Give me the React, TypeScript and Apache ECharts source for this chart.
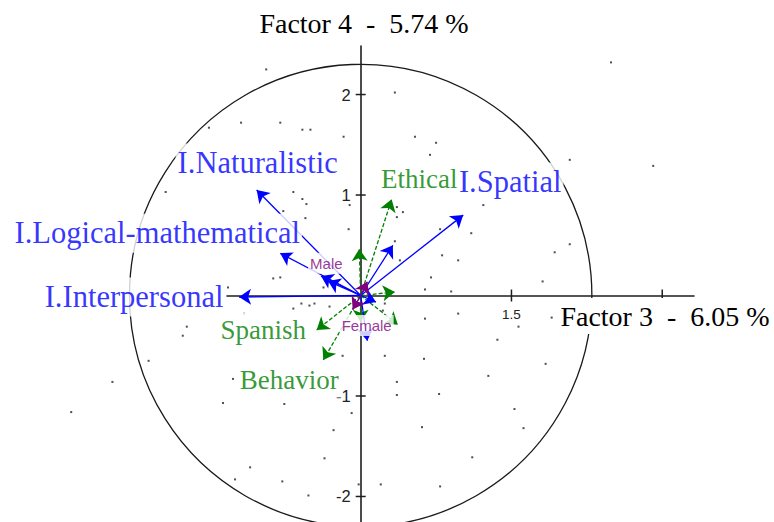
import React, { useEffect, useRef } from "react";
import * as echarts from "echarts";

// ---------- texts ----------
const xAxisTitle = "Factor 3  -  6.05 %";
const yAxisTitle = "Factor 4  -  5.74 %";

// ---------- axes ----------
const xMin = -1.33;
const xMax = 3.316;
const yMin = -2.254;
const yMax = 2.483;
const xTickValues = [1.5, 3];
const xTickLabels = [1.5];
const yTickValues = [-2, -1, 1, 2];
const circleRadius = 2.3;

// ---------- blue variables (intelligences) ----------
const blueNames = ["I.Naturalistic", "I.Logical-mathematical", "I.Interpersonal", "I.Spatial", "", "", "", "", ""];
const blueX = [-1.035, -0.8, -1.21, 1.02, 0.32, -0.395, -0.325, 0.152, 0.066];
const blueY = [1.05, 0.42, -0.015, 0.8, 0.5, 0.194, 0.144, -0.065, -0.45];

// ---------- green variables ----------
const greenNames = ["Ethical", "", "", "Spanish", "Behavior", "", ""];
const greenX = [0.308, -0.014, 0.34, -0.438, -0.372, 0.37, 0.0];
const greenY = [0.957, 0.463, 0.035, -0.343, -0.642, -0.29, -0.26];

// ---------- purple (gender) ----------
const purpleNames = ["Male", "Female"];
const purpleX = [0.066, -0.08];
const purpleY = [0.137, -0.14];

// ---------- individuals ----------
const dotX = [
  -1.51, -1.19, -1.94, -0.94, 0.34, -0.8, -0.58, -0.5, -0.17, 0.54, 0.75, 0.69, -0.67, -0.58, -0.54, -0.77,
  -0.11, 0.36, 0.42, 0.36, 1.22, -0.55, -0.12, 0.79, 1.1, 0.34, 0.81, 0.97, 0.39, -0.87, -0.8, 0.7, 0.64,
  0.9, -0.37, -1.32, -0.67, -0.59, -0.51, -0.46, -0.31, 0.24, 0.22, 0.64, 0.97, 1.57, 1.36, -0.18, 0.24,
  0.63, 1.27, 0.36, 0.36, 0.78, -0.76, -0.09, 1.53, -0.27, 0.61, -0.36, 1.11, -0.78, -0.02, 0.2, 0.79,
  -0.52, -1.16, -1.73, -1.77, -2.11, -2.47, -2.88, -1.27, -1.37, -1.1, -1.25, 2.49, 2.08, 2.91, 2.08, 1.93,
  1.81, 1.9, 1.84, 1.62,
];
const dotY = [
  1.67, 1.72, 1.03, 2.25, 2.02, 1.72, 1.65, 1.65, 1.58, 1.58, 1.52, 1.4, 1.03, 0.96, 0.91, 0.84,
  0.9, 0.88, 0.83, 0.78, 0.9, 0.77, 0.66, 0.66, 0.62, 0.54, 0.4, 0.35, 0.35, 0.17, 0.18, 0.18, 0.06,
  0.04, 0.08, 0.08, -0.13, -0.08, -0.1, -0.08, -0.11, -0.08, -0.15, -0.23, -0.18, -0.31, -0.44, -0.6, -0.6,
  -0.63, -0.8, -0.86, -0.99, -0.98, -1.08, -1.17, -1.13, -1.34, -1.31, -1.62, -1.61, -1.85, -1.88, -1.88, -1.9,
  -1.99, -0.18, -0.31, -0.4, -0.65, -0.86, -1.16, -0.83, -1.07, -1.71, -1.83, 2.32, 1.35, 1.29, 0.51, 0.43,
  0.14, -0.22, -0.68, -1.32,
];

// ---------- layout / style (not data) ----------
const GRID_LEFT = 227;
const GRID_TOP = 46;
const GRID_W = 467;
const GRID_H = 476;

const labelOffsets: Record<string, [number, number]> = {
  "I.Naturalistic": [1, -27],
  "I.Logical-mathematical": [-123, -20],
  "I.Interpersonal": [-105, 0],
  "I.Spatial": [47, -33],
  Ethical: [27.5, -20],
  Spanish: [-53.5, 0],
  Behavior: [-34, 20],
  Male: [-41, -18.5],
  Female: [14, 16],
};

const BLUE = "#0000ff";
const GREEN = "#008000";
const PURPLE = "#800080";
const AXIS = "#1e1e1e";

// pixel offsets that put each axis on the other's zero
const yAxisOffset = -((0 - xMin) / (xMax - xMin)) * GRID_W;
const xAxisOffset = -((0 - yMin) / (yMax - yMin)) * GRID_H;

function arrows(xs: number[], ys: number[]) {
  return xs.map((x, i) => ({ coords: [[0, 0], [x, ys[i]]] }));
}

function labelItems(names: string[], xs: number[], ys: number[], color: string, fontSize: number, fontFamily: string) {
  const out: any[] = [];
  names.forEach((n, i) => {
    if (!n) return;
    out.push({
      name: n,
      value: [xs[i], ys[i]],
      label: {
        show: true,
        position: "inside",
        offset: labelOffsets[n] || [0, 0],
        formatter: n,
        color,
        fontSize,
        fontFamily,
        lineHeight: Math.round(fontSize * 1.15),
        backgroundColor: "#ffffff",
        padding: [2, 2],
        align: "center",
        verticalAlign: "middle",
      },
    });
  });
  return out;
}

export default function App() {
  const ref = useRef<HTMLDivElement>(null);
  useEffect(() => {
    document.body.style.margin = "0";
    if (!ref.current) return;
    const chart = echarts.init(ref.current, undefined, { renderer: "svg" });
    const option: any = {
      animation: false,
      backgroundColor: "#ffffff",
      grid: {
        left: GRID_LEFT,
        top: GRID_TOP,
        width: GRID_W,
        height: GRID_H,
        containLabel: false,
        outerBoundsMode: "none",
      },
      xAxis: {
        type: "value",
        min: xMin,
        max: xMax,
        position: "bottom",
        offset: xAxisOffset,
        splitLine: { show: false },
        axisLine: { onZero: false, lineStyle: { color: AXIS, width: 1.6 } },
        axisTick: { show: false },
        axisLabel: {
          customValues: xTickLabels,
          margin: 12,
          fontSize: 13.5,
          fontFamily: "Liberation Sans",
          color: "#222",
        },
      },
      yAxis: {
        type: "value",
        min: yMin,
        max: yMax,
        position: "left",
        offset: yAxisOffset,
        splitLine: { show: false },
        axisLine: { onZero: false, lineStyle: { color: AXIS, width: 1.6 } },
        axisTick: { show: false },
        axisLabel: {
          customValues: yTickValues,
          margin: 10,
          fontSize: 16.5,
          fontFamily: "Liberation Sans",
          color: "#222",
        },
      },
      graphic: [
        {
          type: "text",
          z: 100,
          x: 364,
          y: 23,
          style: {
            text: yAxisTitle,
            fontSize: 28,
            fontFamily: "Liberation Serif",
            fill: "#000",
            align: "center",
            verticalAlign: "middle",
          },
        },
        {
          type: "text",
          z: 100,
          x: 665,
          y: 316,
          style: {
            text: xAxisTitle,
            fontSize: 28,
            fontFamily: "Liberation Serif",
            fill: "#000",
            align: "center",
            verticalAlign: "middle",
            backgroundColor: "#fff",
            padding: [4, 3],
          },
        },
      ],
      series: [
        {
          type: "custom",
          name: "circle",
          coordinateSystem: "cartesian2d",
          clip: false,
          silent: true,
          z: 1,
          data: [[0, 0, circleRadius]],
          renderItem: (_p: any, api: any) => {
            const c = api.coord([api.value(0), api.value(1)]);
            const r = api.size([api.value(2), 0])[0];
            return {
              type: "circle",
              shape: { cx: c[0], cy: c[1], r },
              style: { fill: "none", stroke: "#1a1a1a", lineWidth: 1.3 },
            };
          },
        },
        {
          type: "custom",
          name: "xticks",
          coordinateSystem: "cartesian2d",
          clip: false,
          silent: true,
          z: 1,
          data: xTickValues.map((v) => [v, 0]),
          renderItem: (_p: any, api: any) => {
            const c = api.coord([api.value(0), api.value(1)]);
            return {
              type: "line",
              shape: { x1: c[0], y1: c[1] - 6, x2: c[0], y2: c[1] + 6 },
              style: { stroke: AXIS, lineWidth: 1.5 },
            };
          },
        },
        {
          type: "custom",
          name: "yticks",
          coordinateSystem: "cartesian2d",
          clip: false,
          silent: true,
          z: 1,
          data: yTickValues.map((v) => [0, v]),
          renderItem: (_p: any, api: any) => {
            const c = api.coord([api.value(0), api.value(1)]);
            return {
              type: "line",
              shape: { x1: c[0] - 5, y1: c[1], x2: c[0] + 5, y2: c[1] },
              style: { stroke: AXIS, lineWidth: 1.5 },
            };
          },
        },
        {
          type: "scatter",
          name: "individuals",
          clip: false,
          z: 2,
          symbol: "rect",
          symbolSize: 2,
          itemStyle: { color: "#222" },
          data: dotX.map((x, i) => [x, dotY[i]]),
        },
        {
          type: "lines",
          name: "green",
          coordinateSystem: "cartesian2d",
          clip: false,
          z: 3,
          symbol: ["none", "arrow"],
          symbolSize: 12,
          lineStyle: { color: GREEN, width: 1.3, opacity: 1, type: [4, 2], curveness: 0 },
          data: arrows(greenX, greenY),
        },
        {
          type: "lines",
          name: "blue",
          coordinateSystem: "cartesian2d",
          clip: false,
          z: 4,
          symbol: ["none", "arrow"],
          symbolSize: 12,
          lineStyle: { color: BLUE, width: 1.3, opacity: 1, curveness: 0 },
          data: arrows(blueX, blueY),
        },
        {
          type: "lines",
          name: "purple",
          coordinateSystem: "cartesian2d",
          clip: false,
          z: 4,
          symbol: ["none", "arrow"],
          symbolSize: 12,
          lineStyle: { color: PURPLE, width: 1.5, opacity: 1, curveness: 0 },
          data: arrows(purpleX, purpleY),
        },
        {
          type: "scatter",
          name: "labels",
          clip: false,
          z: 10,
          symbolSize: 1,
          itemStyle: { color: "rgba(0,0,0,0)" },
          data: [
            ...labelItems(blueNames, blueX, blueY, BLUE, 30.5, "Liberation Serif"),
            ...labelItems(greenNames, greenX, greenY, GREEN, 27, "Liberation Serif"),
            ...labelItems(purpleNames, purpleX, purpleY, PURPLE, 15, "Liberation Sans"),
          ],
        },
      ],
    };
    chart.setOption(option);
    return () => chart.dispose();
  }, []);
  return <div ref={ref} style={{ width: 774, height: 522 }} />;
}
